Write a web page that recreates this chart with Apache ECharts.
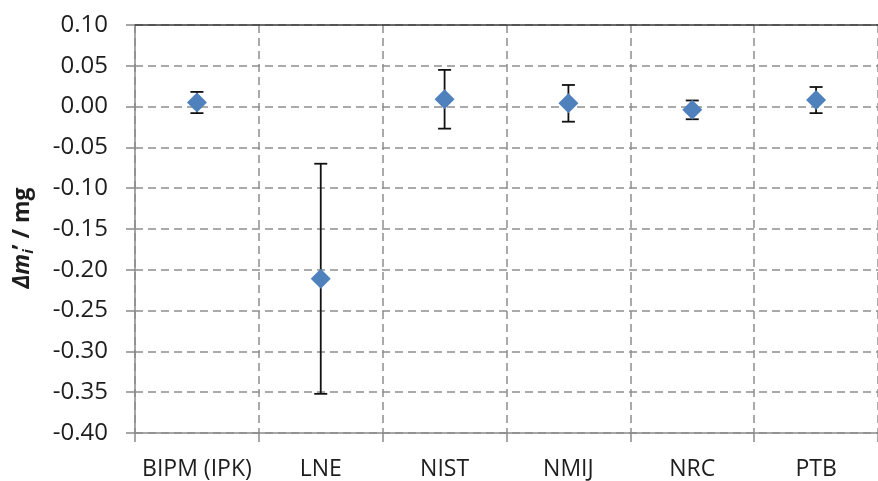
<!DOCTYPE html>
<html>
<head>
<meta charset="utf-8">
<script src="https://cdn.jsdelivr.net/npm/echarts@6/dist/echarts.min.js"></script>
<style>
html,body{margin:0;padding:0;background:#fff;}
#chart{width:878px;height:481px;}
</style>
</head>
<body>
<div id="chart"></div>
<script>
// ---- data ----
const categories = ['BIPM (IPK)', 'LNE', 'NIST', 'NMIJ', 'NRC', 'PTB'];
const values     = [0.005, -0.211, 0.009, 0.004, -0.004, 0.008];
const errHigh    = [0.018, -0.070, 0.045, 0.0265, 0.0075, 0.024];
const errLow     = [-0.008, -0.352, -0.027, -0.0185, -0.0155, -0.008];
const yTicks     = { min: -0.40, max: 0.10, interval: 0.05 };

const font = '"Open Sans", "Liberation Sans", sans-serif';
const gridColor = '#8f8f8f';

const chart = echarts.init(document.getElementById('chart'), null, { renderer: 'canvas' });

const errData = categories.map((c, i) => [i, errLow[i], errHigh[i]]);

chart.setOption({
  animation: false,
  backgroundColor: '#ffffff',
  grid: { left: 135, right: -7, top: 25, bottom: 48, containLabel: false },
  xAxis: [{
    type: 'category',
    data: categories,
    boundaryGap: true,
    axisLine: { show: true, onZero: false, lineStyle: { color: '#8a8a8a', width: 1.5 } },
    axisTick: { show: true, interval: 0, alignWithLabel: false, length: 9, lineStyle: { color: '#8a8a8a', width: 1.5 } },
    axisLabel: { interval: 0, color: '#1e1e1e', fontSize: 23, fontFamily: font, margin: 25 },
    splitLine: { show: true, interval: 0, lineStyle: { color: gridColor, width: 1.5, type: [8, 5] } }
  }, {
    type: 'category',
    data: categories,
    position: 'top',
    boundaryGap: true,
    axisLine: { show: true, onZero: false, lineStyle: { color: '#3a3a3a', width: 1.5 } },
    axisTick: { show: false },
    axisLabel: { show: false },
    splitLine: { show: false }
  }],
  yAxis: {
    type: 'value',
    min: yTicks.min,
    max: yTicks.max,
    interval: yTicks.interval,
    axisLine: { show: true, onZero: false, lineStyle: { color: '#8a8a8a', width: 1.5 } },
    axisTick: { show: true, length: 9, lineStyle: { color: '#8a8a8a', width: 1.5 } },
    axisLabel: {
      color: '#1e1e1e', fontSize: 24, fontFamily: font, margin: 27,
      formatter: v => v.toFixed(2)
    },
    splitLine: { show: true, lineStyle: { color: gridColor, width: 1.5, type: [8, 5] } },
    name: '{it|Δm}{sub|i}{b|’ / mg}',
    nameLocation: 'middle',
    nameGap: 99,
    nameRotate: 90,
    nameTextStyle: {
      padding: [0, 18, 0, 0],
      rich: {
        it: { fontSize: 23, fontWeight: 'bold', fontStyle: 'italic', fontFamily: font, color: '#1e1e1e' },
        sub: { fontSize: 15, fontWeight: 'bold', fontStyle: 'italic', fontFamily: font, color: '#1e1e1e', padding: [12, 0, 0, 0] },
        b: { fontSize: 23, fontWeight: 'bold', fontFamily: font, color: '#1e1e1e' }
      }
    }
  },
  series: [{
    type: 'custom',
    xAxisIndex: 0,
    data: errData,
    z: 3,
    renderItem: function (params, api) {
      const top = api.coord([api.value(0), api.value(2)]);
      const bot = api.coord([api.value(0), api.value(1)]);
      const half = 6.5;
      const style = { stroke: '#111', lineWidth: 1.8 };
      return {
        type: 'group',
        children: [
          { type: 'line', shape: { x1: top[0], y1: top[1], x2: bot[0], y2: bot[1] }, style },
          { type: 'line', shape: { x1: top[0] - half, y1: top[1], x2: top[0] + half, y2: top[1] }, style },
          { type: 'line', shape: { x1: bot[0] - half, y1: bot[1], x2: bot[0] + half, y2: bot[1] }, style }
        ]
      };
    }
  }, {
    type: 'scatter',
    xAxisIndex: 0,
    data: values,
    symbol: 'diamond',
    symbolSize: 20,
    z: 4,
    itemStyle: { color: '#4f81bd', opacity: 1 }
  }]
});
</script>
</body>
</html>
